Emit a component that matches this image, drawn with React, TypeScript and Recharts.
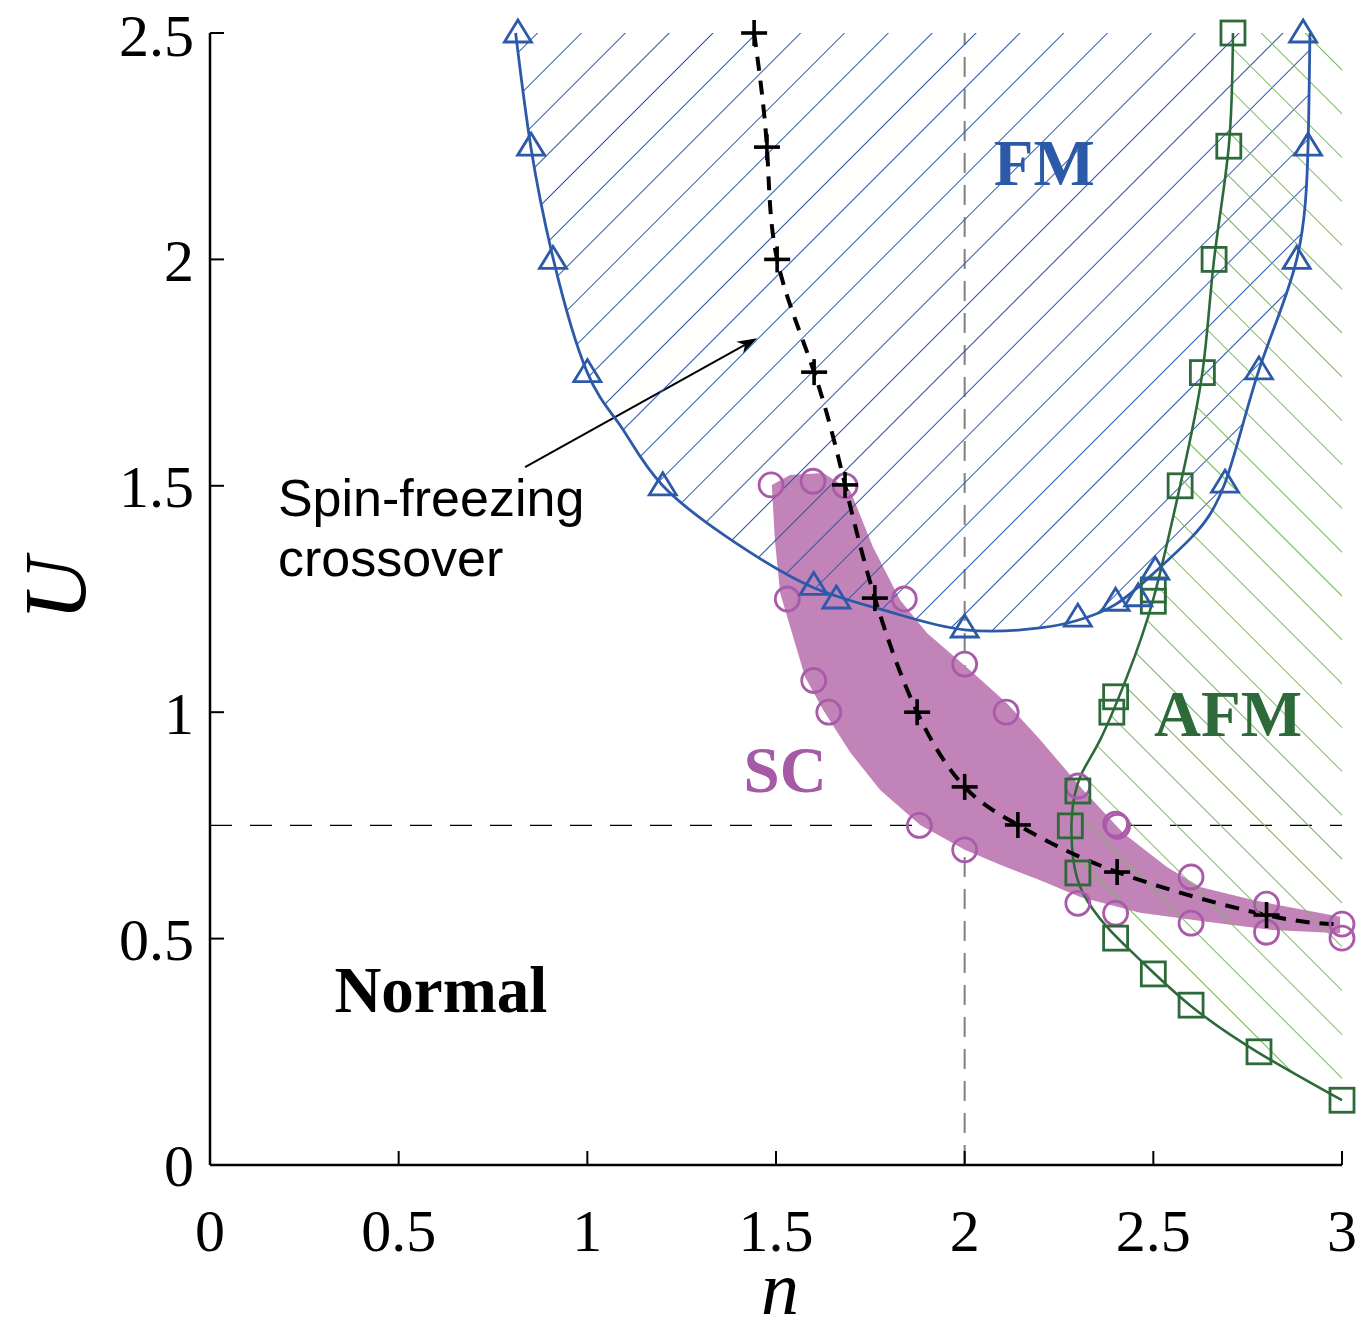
import React from "react";
import { ComposedChart, Scatter, XAxis, YAxis, ReferenceLine, ReferenceDot, Label } from "recharts";

const nTicks = [0, 0.5, 1, 1.5, 2, 2.5, 3];
const uTicks = [0, 0.5, 1, 1.5, 2, 2.5];

// FM boundary: triangle markers
const fmMarkN = [0.816, 0.851, 0.909, 1.0, 1.2, 1.6, 1.66, 2.0, 2.3, 2.4, 2.46, 2.505, 2.69, 2.78, 2.88, 2.91, 2.897];
const fmMarkU = [2.5, 2.25, 2.0, 1.75, 1.5, 1.28, 1.25, 1.186, 1.21, 1.245, 1.255, 1.314, 1.506, 1.756, 2.0, 2.25, 2.5];
// FM boundary: fitted line
const fmLineN = [0.81, 0.85, 0.91, 1.0, 1.09, 1.2, 1.4, 1.6, 1.8, 2.0, 2.2, 2.3, 2.4, 2.505, 2.6, 2.69, 2.78, 2.88, 2.91, 2.915];
const fmLineU = [2.5, 2.25, 2.0, 1.75, 1.63, 1.5, 1.37, 1.275, 1.222, 1.182, 1.186, 1.203, 1.238, 1.31, 1.385, 1.506, 1.756, 2.0, 2.25, 2.5];

// AFM boundary: square markers
const afmMarkN = [2.711, 2.7, 2.661, 2.63, 2.571, 2.5, 2.5, 2.4, 2.39, 2.3, 2.28, 2.3, 2.4, 2.5, 2.6, 2.78, 3.0];
const afmMarkU = [2.5, 2.25, 2.0, 1.75, 1.5, 1.27, 1.245, 1.034, 1.0, 0.826, 0.749, 0.645, 0.501, 0.422, 0.353, 0.25, 0.143];
// AFM boundary: fitted line
const afmLineN = [2.711, 2.7, 2.661, 2.63, 2.571, 2.5, 2.43, 2.359, 2.306, 2.284, 2.288, 2.314, 2.377, 2.465, 2.597, 2.775, 3.0];
const afmLineU = [2.5, 2.25, 2.0, 1.75, 1.5, 1.25, 1.078, 0.939, 0.857, 0.769, 0.674, 0.6, 0.526, 0.453, 0.353, 0.25, 0.143];

// SC band outline (upper/right edge, then lower/left edge back)
const bandN = [1.489, 1.537, 1.625, 1.696, 1.757, 1.829, 1.9, 2.022, 2.112, 2.2, 2.314, 2.42, 2.536, 2.624, 2.764, 2.995, 2.995, 2.817, 2.642, 2.465, 2.306, 2.2, 2.094, 2.0, 1.882, 1.776, 1.696, 1.625, 1.577, 1.511, 1.497];
const bandU = [1.502, 1.524, 1.528, 1.491, 1.365, 1.248, 1.175, 1.087, 1.02, 0.939, 0.828, 0.733, 0.658, 0.614, 0.585, 0.548, 0.512, 0.519, 0.537, 0.557, 0.592, 0.629, 0.663, 0.696, 0.751, 0.828, 0.912, 1.005, 1.078, 1.263, 1.38];
// SC circle markers
const scN = [1.487, 1.598, 1.683, 1.53, 1.84, 1.6, 1.64, 2.0, 2.11, 1.88, 2.0, 2.3, 2.4, 2.405, 2.6, 2.8, 3.0, 2.3, 2.4, 2.6, 2.8, 3.0];
const scU = [1.502, 1.51, 1.5, 1.25, 1.25, 1.07, 1.0, 1.106, 1.0, 0.75, 0.696, 0.837, 0.753, 0.748, 0.636, 0.576, 0.532, 0.578, 0.556, 0.534, 0.514, 0.501];

// spin-freezing crossover
const sfN = [1.442, 1.476, 1.503, 1.601, 1.683, 1.762, 1.874, 2.0, 2.141, 2.404, 2.8];
const sfU = [2.5, 2.248, 2.0, 1.751, 1.502, 1.252, 1.0, 0.835, 0.751, 0.647, 0.552];
const sfLineN = [1.442, 1.476, 1.503, 1.601, 1.683, 1.762, 1.874, 2.0, 2.141, 2.404, 2.8, 3.0];
const sfLineU = [2.5, 2.248, 2.0, 1.751, 1.502, 1.252, 1.0, 0.835, 0.751, 0.647, 0.552, 0.532];

const toPts = (ns: number[], us: number[]) => ns.map((n, i) => ({ n, U: us[i] }));

const BLUE = "#2c5aa8";
const GREEN = "#2d6a39";
const GREEN_HATCH = "#7bb661";
const PURPLE_FILL = "#c284b8";
const PURPLE = "#a95ba9";
const SERIF = "Liberation Serif, Times New Roman, serif";

const noDot = () => <g />;

const triangle = (p: any) => (
  <polygon
    points={`${p.cx},${p.cy - 13} ${p.cx + 13.5},${p.cy + 9} ${p.cx - 13.5},${p.cy + 9}`}
    fill="none"
    stroke={BLUE}
    strokeWidth={2.8}
  />
);
const square = (p: any) => (
  <rect x={p.cx - 12} y={p.cy - 12} width={24} height={24} fill="none" stroke={GREEN} strokeWidth={2.8} />
);
const circle = (p: any) => <circle cx={p.cx} cy={p.cy} r={12} fill="none" stroke={PURPLE} strokeWidth={2.8} />;
const plus = (p: any) => (
  <g stroke="#000" strokeWidth={3.6}>
    <line x1={p.cx - 13} y1={p.cy} x2={p.cx + 13} y2={p.cy} />
    <line x1={p.cx} y1={p.cy - 13} x2={p.cx} y2={p.cy + 13} />
  </g>
);

const arrow = (p: any) => {
  const { x1, y1, x2, y2 } = p;
  const a = Math.atan2(y2 - y1, x2 - x1);
  const c = Math.cos(a);
  const s = Math.sin(a);
  const L = 20;
  const W = 7;
  const bx = x2 - L * c;
  const by = y2 - L * s;
  const nx = x2 - L * 0.7 * c;
  const ny = y2 - L * 0.7 * s;
  return (
    <g>
      <line x1={x1} y1={y1} x2={nx} y2={ny} stroke="#000" strokeWidth={2} />
      <polygon
        points={`${x2},${y2} ${bx - W * s},${by + W * c} ${nx},${ny} ${bx + W * s},${by - W * c}`}
        fill="#000"
      />
    </g>
  );
};

const regionText = (text: string, color: string) => (p: any) => (
  <text x={p.cx} y={p.cy} textAnchor="middle" fill={color} fontSize={65} fontWeight="bold" fontFamily={SERIF}>
    {text}
  </text>
);

const spinText = (p: any) => (
  <text x={p.cx} y={p.cy} fill="#000" fontSize={52} fontFamily="Liberation Sans, Arial, sans-serif">
    <tspan x={p.cx}>Spin-freezing</tspan>
    <tspan x={p.cx} dy={60}>
      crossover
    </tspan>
  </text>
);

const tickStyle = { fill: "#000", fontSize: 60, fontFamily: SERIF };
const axisLine = { stroke: "#000", strokeWidth: 2.5 };
const tickLine = { stroke: "#000", strokeWidth: 2 };

export default function App() {
  return (
    <div style={{ position: "absolute", left: 0, top: 0, background: "#fff" }}>
      <ComposedChart width={1364} height={1331} margin={{ top: 33, right: 22, bottom: 0, left: 0 }}>
        <defs>
          <pattern id="fmHatch" patternUnits="userSpaceOnUse" width={31} height={31} patternTransform="rotate(45)">
            <line x1={0} y1={0} x2={0} y2={31} stroke={BLUE} strokeWidth={2} />
          </pattern>
          <pattern id="afmHatch" patternUnits="userSpaceOnUse" width={31} height={31} patternTransform="rotate(-45)">
            <line x1={0} y1={0} x2={0} y2={31} stroke={GREEN_HATCH} strokeWidth={2} />
          </pattern>
        </defs>
        <XAxis
          xAxisId={0}
          type="number"
          dataKey="n"
          domain={[0, 3]}
          ticks={nTicks}
          height={166}
          tick={tickStyle}
          tickSize={-14}
          tickMargin={57}
          axisLine={axisLine}
          tickLine={tickLine}
        >
          <Label
            content={(props: any) => {
              const vb = props.viewBox || { x: 210, y: 1165, width: 1132, height: 166 };
              return (
                <text
                  x={vb.x + vb.width / 2 + 4}
                  y={vb.y + vb.height - 17}
                  textAnchor="middle"
                  fill="#000"
                  fontSize={76}
                  fontStyle="italic"
                  fontFamily={SERIF}
                >
                  n
                </text>
              );
            }}
          />
        </XAxis>
        <XAxis
          xAxisId="top"
          orientation="top"
          type="number"
          dataKey="n"
          domain={[0, 3]}
          ticks={nTicks}
          height={0}
          tick={noDot}
          tickSize={-14}
          axisLine={axisLine}
          tickLine={tickLine}
        />
        <YAxis
          yAxisId={0}
          type="number"
          dataKey="U"
          domain={[0, 2.5]}
          ticks={uTicks}
          width={210}
          tick={tickStyle}
          tickSize={-14}
          tickMargin={30}
          axisLine={axisLine}
          tickLine={tickLine}
        >
          <Label
            content={(props: any) => {
              const vb = props.viewBox || { x: 0, y: 33, width: 210, height: 1132 };
              const x = vb.x + 85;
              const y = vb.y + vb.height / 2 - 10;
              return (
                <text
                  x={x}
                  y={y}
                  transform={`rotate(-90, ${x}, ${y})`}
                  textAnchor="middle"
                  fill="#000"
                  fontSize={88}
                  fontStyle="italic"
                  fontFamily={SERIF}
                >
                  U
                </text>
              );
            }}
          />
        </YAxis>
        <YAxis
          yAxisId="right"
          orientation="right"
          type="number"
          dataKey="U"
          domain={[0, 2.5]}
          ticks={uTicks}
          width={0}
          tick={noDot}
          tickSize={-14}
          axisLine={axisLine}
          tickLine={tickLine}
        />

        {/* SC band */}
        <Scatter
          data={toPts(bandN, bandU)}
          shape={noDot}
          line={{ fill: PURPLE_FILL, stroke: "none" }}
          lineJointType="linear"
          isAnimationActive={false}
        />
        {/* hatched regions */}
        <Scatter
          data={toPts(fmLineN, fmLineU)}
          shape={noDot}
          line={{ fill: "url(#fmHatch)", stroke: "none" }}
          lineJointType="natural"
          isAnimationActive={false}
        />
        <Scatter
          data={[...toPts(afmLineN, afmLineU), { n: 3, U: 2.5 }]}
          shape={noDot}
          line={{ fill: "url(#afmHatch)", stroke: "none" }}
          lineJointType="linear"
          isAnimationActive={false}
        />

        <ReferenceLine y={0.75} stroke="#000" strokeWidth={1.3} strokeDasharray="22 18" />
        <ReferenceLine x={2} stroke="#808080" strokeWidth={2} strokeDasharray="20 12" />

        {/* boundary lines */}
        <Scatter
          data={toPts(fmLineN, fmLineU)}
          shape={noDot}
          line={{ stroke: BLUE, strokeWidth: 2.8, fill: "none" }}
          lineJointType="natural"
          isAnimationActive={false}
        />
        <Scatter
          data={toPts(afmLineN, afmLineU)}
          shape={noDot}
          line={{ stroke: GREEN, strokeWidth: 2.6, fill: "none" }}
          lineJointType="natural"
          isAnimationActive={false}
        />
        <Scatter
          data={toPts(sfLineN, sfLineU)}
          shape={noDot}
          line={{ stroke: "#000", strokeWidth: 4, strokeDasharray: "14 10", fill: "none" }}
          lineJointType="natural"
          isAnimationActive={false}
        />

        {/* markers */}
        <Scatter data={toPts(scN, scU)} shape={circle} isAnimationActive={false} />
        <Scatter data={toPts(afmMarkN, afmMarkU)} shape={square} isAnimationActive={false} />
        <Scatter data={toPts(fmMarkN, fmMarkU)} shape={triangle} isAnimationActive={false} />
        <Scatter data={toPts(sfN, sfU)} shape={plus} isAnimationActive={false} />

        {/* annotations */}
        <ReferenceLine
          segment={[
            { x: 0.835, y: 1.541 },
            { x: 1.45, y: 1.826 },
          ]}
          shape={arrow}
        />
        <ReferenceDot x={2.211} y={2.164} r={0} shape={regionText("FM", BLUE)} />
        <ReferenceDot x={2.698} y={0.947} r={0} shape={regionText("AFM", GREEN)} />
        <ReferenceDot x={1.524} y={0.824} r={0} shape={regionText("SC", "#a55aa6")} />
        <ReferenceDot x={0.612} y={0.338} r={0} shape={regionText("Normal", "#000")} />
        <ReferenceDot x={0.18} y={1.433} r={0} shape={spinText} />
      </ComposedChart>
    </div>
  );
}
